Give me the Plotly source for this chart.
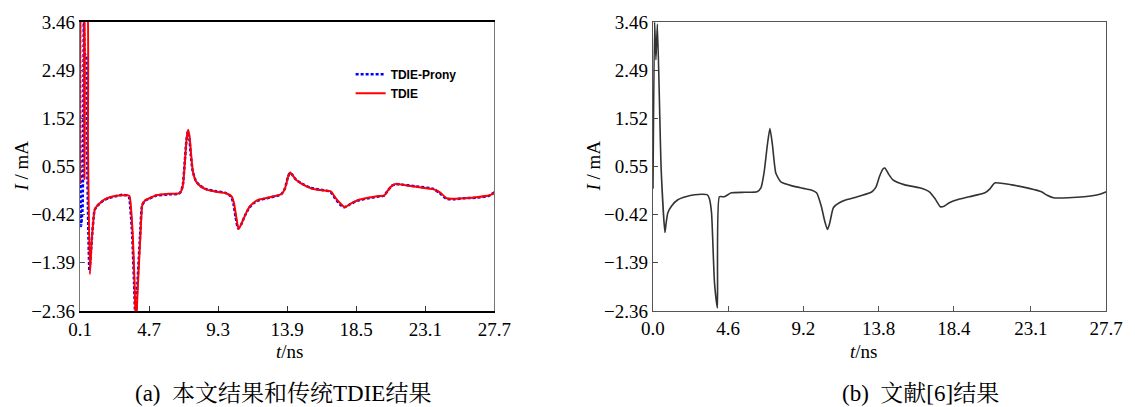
import plotly.graph_objects as go

# ---------------- data ----------------
# (a) this work: TDIE and TDIE-Prony
t_tdie = [0.10, 0.23, 0.33, 0.40, 0.46, 0.56, 0.63, 0.76, 0.89, 1.09, 1.25, 1.42, 1.70, 2.08,
          2.50, 2.94, 3.25, 3.40, 3.60, 3.73, 3.83, 3.93, 4.13, 4.26, 4.45, 4.72, 5.18, 6.00,
          6.70, 6.85, 6.97, 7.10, 7.20, 7.30, 7.40, 7.50, 7.62, 7.83, 8.10, 8.49, 9.20, 9.81,
          10.20, 10.35, 10.50, 10.66, 10.86, 11.13, 11.40, 11.79, 12.10, 12.45, 13.00, 13.50,
          13.77, 13.97, 14.10, 14.25, 14.50, 14.82, 15.49, 16.20, 16.80, 17.14, 17.47, 17.73,
          18.13, 18.59, 19.30, 19.91, 20.37, 20.64, 20.90, 21.15, 21.43, 22.50, 23.67, 24.07,
          24.53, 25.10, 25.65, 26.50, 27.37, 27.70]
i_tdie = [0.20, 4.00, 4.00, 0.30, 4.00, 4.00, 1.00, -1.62, -0.90, -0.31, -0.24, -0.19, -0.12, -0.07,
          -0.04, -0.03, -0.03, -0.05, -0.75, -1.76, -2.70, -2.00, -0.81, -0.21, -0.13, -0.09, -0.03, 0.00,
          0.01, 0.06, 0.20, 0.70, 1.10, 1.29, 1.15, 0.80, 0.45, 0.25, 0.16, 0.09, 0.04, 0.01,
          -0.05, -0.18, -0.45, -0.71, -0.60, -0.41, -0.26, -0.15, -0.11, -0.09, -0.05, -0.01,
          0.12, 0.35, 0.43, 0.38, 0.28, 0.21, 0.11, 0.07, 0.05, -0.09, -0.20, -0.27,
          -0.20, -0.13, -0.08, -0.05, -0.03, 0.08, 0.17, 0.20, 0.19, 0.14, 0.09, 0.03,
          -0.09, -0.10, -0.09, -0.07, -0.03, 0.02]

t_prony = [0.10, 0.17, 0.27, 0.36, 0.43, 0.50, 0.56, 0.73, 0.88, 1.07, 1.23, 1.40, 1.68, 2.05,
           2.47, 2.90, 3.22, 3.36, 3.57, 3.70, 3.80, 3.90, 4.10, 4.24, 4.43, 4.70, 5.15, 5.97,
           6.68, 6.83, 6.95, 7.08, 7.18, 7.28, 7.38, 7.48, 7.60, 7.80, 8.07, 8.46, 9.17, 9.78,
           10.17, 10.32, 10.47, 10.63, 10.83, 11.10, 11.37, 11.76, 12.07, 12.42, 12.97, 13.47,
           13.74, 13.94, 14.08, 14.22, 14.47, 14.80, 15.46, 16.17, 16.78, 17.11, 17.44, 17.70,
           18.10, 18.56, 19.27, 19.88, 20.34, 20.61, 20.87, 21.12, 21.40, 22.47, 23.64, 24.04,
           24.50, 25.07, 25.62, 26.47, 27.34, 27.70]
i_prony = [3.60, -0.65, -0.30, 3.60, 2.80, 2.80, 1.00, -1.55, -0.95, -0.33, -0.25, -0.20, -0.13, -0.08,
           -0.05, -0.02, -0.03, -0.06, -0.80, -1.80, -2.60, -1.95, -0.85, -0.23, -0.14, -0.10, -0.04, -0.01,
           0.00, 0.05, 0.18, 0.65, 1.05, 1.25, 1.12, 0.78, 0.47, 0.27, 0.17, 0.10, 0.05, 0.02,
           -0.06, -0.20, -0.48, -0.70, -0.62, -0.43, -0.28, -0.17, -0.12, -0.10, -0.06, -0.02,
           0.10, 0.33, 0.42, 0.39, 0.29, 0.22, 0.12, 0.08, 0.04, -0.10, -0.22, -0.27,
           -0.21, -0.14, -0.09, -0.06, -0.04, 0.07, 0.16, 0.19, 0.19, 0.15, 0.10, 0.02,
           -0.10, -0.11, -0.09, -0.08, -0.04, 0.03]

# (b) reference [6]
t_ref = [0.00, 0.10, 0.18, 0.27, 0.50, 0.73, 0.80, 0.91, 1.15, 1.52, 2.00, 2.55, 3.00, 3.33,
         3.45, 3.58, 3.76, 3.94, 4.06, 4.36, 4.79, 5.60, 6.36, 6.60, 6.79, 7.00, 7.15, 7.30,
         7.51, 7.82, 8.50, 9.20, 9.64, 10.00, 10.30, 10.50, 10.67, 10.80, 11.03, 11.40, 11.82,
         12.50, 13.27, 13.45, 13.64, 13.85, 14.06, 14.18, 14.40, 14.67, 15.40, 16.30, 16.90,
         17.25, 17.57, 17.80, 18.12, 18.70, 19.33, 20.30, 20.60, 20.90, 21.94, 23.00, 23.76,
         24.10, 24.48, 25.40, 26.36, 27.20, 27.57, 27.70]
i_ref = [0.10, 3.46, 2.70, 3.42, 0.50, -0.78, -0.60, -0.38, -0.24, -0.12, -0.06, -0.02, -0.01, -0.02,
         -0.10, -0.38, -1.78, -2.30, -0.06, -0.06, 0.02, 0.03, 0.04, 0.12, 0.42, 1.00, 1.32, 1.00,
         0.42, 0.24, 0.16, 0.11, 0.08, 0.02, -0.26, -0.55, -0.72, -0.60, -0.28, -0.18, -0.12,
         -0.06, 0.02, 0.06, 0.14, 0.35, 0.50, 0.52, 0.40, 0.28, 0.18, 0.12, 0.04,
         -0.10, -0.26, -0.25, -0.18, -0.11, -0.06, 0.02, 0.10, 0.22, 0.18, 0.11, 0.04,
         -0.03, -0.08, -0.08, -0.06, -0.02, 0.02, 0.04]

y_ticks = [-2.36, -1.39, -0.42, 0.55, 1.52, 2.49, 3.46]
y_ticktext = ["\u22122.36", "\u22121.39", "\u22120.42", "0.55", "1.52", "2.49", "3.46"]
x_ticks_a = [0.1, 4.7, 9.3, 13.9, 18.5, 23.1, 27.7]
x_ticks_b = [0.0, 4.6, 9.2, 13.8, 18.4, 23.1, 27.7]

captions = ["(a)  本文结果和传统TDIE结果", "(b)  文献[6]结果"]
series_names = ["TDIE-Prony", "TDIE"]

# ---------------- figure ----------------
SERIF = "Liberation Serif, Times New Roman, serif"
CAPFONT = "Liberation Serif, Noto Serif CJK SC, Noto Sans CJK SC, serif"

fig = go.Figure()
fig.add_trace(go.Scatter(x=t_prony, y=i_prony, mode="lines", name=series_names[0],
                         line=dict(color="#0000ff", width=2.5, dash="3px,2px",
                                   shape="spline", smoothing=0.5),
                         xaxis="x", yaxis="y"))
fig.add_trace(go.Scatter(x=t_tdie, y=i_tdie, mode="lines", name=series_names[1],
                         line=dict(color="#ff0000", width=2, shape="spline", smoothing=0.5),
                         xaxis="x", yaxis="y"))
fig.add_trace(go.Scatter(x=t_ref, y=i_ref, mode="lines", showlegend=False,
                         line=dict(color="#333333", width=1.6, shape="spline", smoothing=0.5),
                         xaxis="x2", yaxis="y2"))

W, H = 1135, 407
L, R, T, B = 80, 20, 20, 96
pw = W - L - R
ph = H - T - B


def px_x(p):
    return (p - L) / pw


def px_y(p):
    return (H - B - p) / ph


tickfont = dict(family=SERIF, size=19, color="black")

fig.update_layout(
    width=W, height=H,
    margin=dict(l=L, r=R, t=T, b=B),
    paper_bgcolor="white", plot_bgcolor="white",
    showlegend=True,
    legend=dict(x=px_x(353), y=px_y(58), xanchor="left", yanchor="top",
                bgcolor="rgba(0,0,0,0)", borderwidth=0,
                font=dict(family="Liberation Sans, Arial, sans-serif", size=12,
                          color="black", weight="bold"),
                tracegroupgap=0),
    xaxis=dict(domain=[0, px_x(498)], range=[0.1, 27.7], tickvals=x_ticks_a,
               ticktext=[f"{v:.1f}" for v in x_ticks_a], ticks="inside", ticklen=5,
               tickcolor="#333", showgrid=False, zeroline=False, showline=True,
               linecolor="black", linewidth=2, mirror=True, tickfont=tickfont,
               anchor="y"),
    yaxis=dict(domain=[0, 1], range=[-2.36, 3.46], tickvals=y_ticks, ticktext=y_ticktext,
               ticks="inside", ticklen=5, tickcolor="#555", showgrid=False, zeroline=False,
               showline=True, linecolor="#777", linewidth=1.2, mirror=True,
               tickfont=tickfont, anchor="x"),
    xaxis2=dict(domain=[px_x(658), 1], range=[0.0, 27.7], tickvals=x_ticks_b,
                ticktext=[f"{v:.1f}" for v in x_ticks_b], ticks="inside", ticklen=5,
                tickcolor="#555", showgrid=False, zeroline=False, showline=True,
                linecolor="#555", linewidth=1.2, mirror=True, tickfont=tickfont,
                anchor="y2"),
    yaxis2=dict(domain=[0, 1], range=[-2.36, 3.46], tickvals=y_ticks, ticktext=y_ticktext,
                ticks="inside", ticklen=5, tickcolor="#444", showgrid=False, zeroline=False,
                showline=True, linecolor="#555", linewidth=1.2, mirror=True,
                tickfont=tickfont, anchor="x2"),
)

ann = []
# axis titles
for xp in (20, 597):
    ann.append(dict(text="<i>I</i> / mA", x=px_x(xp), y=px_y(165), xref="paper", yref="paper",
                    showarrow=False, textangle=-90,
                    font=dict(family=SERIF, size=19, color="black"),
                    xanchor="center", yanchor="middle"))
for xp in (291, 870):
    ann.append(dict(text="<i>t</i>/ns", x=px_x(xp), y=px_y(352), xref="paper", yref="paper",
                    showarrow=False, font=dict(family=SERIF, size=19, color="black"),
                    xanchor="center", yanchor="middle"))
# captions
ann.append(dict(text=captions[0], x=px_x(285), y=px_y(394), xref="paper", yref="paper",
                showarrow=False, font=dict(family=CAPFONT, size=23, color="black"),
                xanchor="center", yanchor="middle"))
ann.append(dict(text=captions[1], x=px_x(928), y=px_y(394), xref="paper", yref="paper",
                showarrow=False, font=dict(family=CAPFONT, size=23, color="black"),
                xanchor="center", yanchor="middle"))
fig.update_layout(annotations=ann)

fig.write_html("out.html",
               config={"displayModeBar": False},
               post_script="document.body.style.margin='0';document.body.style.padding='0';")
